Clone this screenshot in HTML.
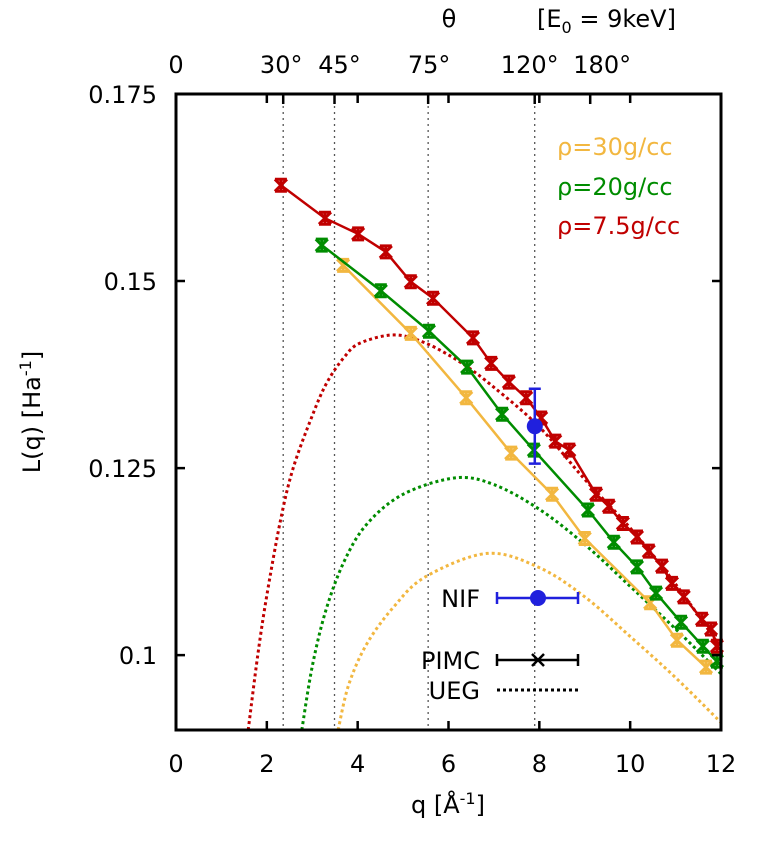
<!DOCTYPE html>
<html><head><meta charset="utf-8"><style>
body{margin:0;background:#fff;}
svg{display:block;font-family:"DejaVu Sans","Liberation Sans",sans-serif;}
</style></head><body>
<svg id="chart" width="773" height="861" viewBox="0 0 773 861"></svg>
<script>
const redQ=[2.31,3.28,4.01,4.62,5.17,5.66,6.54,6.94,7.33,7.71,8.04,8.35,8.66,9.25,9.53,9.84,10.15,10.41,10.70,10.92,11.18,11.58,11.78,11.91];
const redL=[0.1628,0.1584,0.1563,0.1539,0.1499,0.1477,0.1424,0.1390,0.1365,0.1344,0.1317,0.1286,0.1274,0.1215,0.1199,0.1176,0.1158,0.1139,0.1119,0.1096,0.1078,0.1048,0.1035,0.1012];
const greenQ=[3.21,4.51,5.57,6.41,7.18,7.88,9.07,9.64,10.15,10.57,11.12,11.60,11.91];
const greenL=[0.1548,0.1487,0.1433,0.1385,0.1322,0.1274,0.1194,0.1151,0.1118,0.1083,0.1044,0.1012,0.0992];
const yellowQ=[3.68,5.17,6.39,7.38,8.28,9.00,10.44,11.03,11.67];
const yellowL=[0.1521,0.1430,0.1344,0.1270,0.1215,0.1156,0.1070,0.1020,0.0984];
const uegRedQ=[1.59,1.8,2.0,2.3,2.58,3.0,3.32,3.7,4.05,4.8,5.5,6.3,7,8,9,10,11,12];
const uegRedL=[0.09,0.1,0.108,0.118,0.125,0.132,0.1364,0.1398,0.1417,0.1428,0.1417,0.139,0.1358,0.1305,0.1235,0.117,0.1095,0.101];
const uegGreenQ=[2.77,3.0,3.3,3.7,4.2,5,6.15,7,8,9,10,11,12];
const uegGreenL=[0.09,0.0985,0.106,0.1125,0.1175,0.1215,0.1237,0.1228,0.1195,0.1148,0.1092,0.1035,0.0975];
const uegYellowQ=[3.57,3.8,4.2,4.8,5.5,6.85,8,9,10,11,12];
const uegYellowL=[0.09,0.096,0.1015,0.1065,0.1105,0.1136,0.1117,0.1078,0.1025,0.097,0.091];
const nifQ=[7.9];const nifL=[0.1306];const nifErr=[0.005];
const xTicks=[0,2,4,6,8,10,12];
const yTicks=[0.1,0.125,0.15,0.175];
const yTickLabels=["0.1","0.125","0.15","0.175"];
const thetaLabels=["0","30°","45°","75°","120°","180°"];
const thetaDeg=[0,30,45,75,120,180];
const kIn=4.56;
const thetaLabelShift=[0,-2,5,1,-5,12];

const X0=176,X1=721,Y0=94,Y1=730,QMIN=0,QMAX=12,LMIN=0.09,LMAX=0.175;
const sx=q=>X0+(q-QMIN)/(QMAX-QMIN)*(X1-X0);
const sy=l=>Y1-(l-LMIN)/(LMAX-LMIN)*(Y1-Y0);
const svg=document.getElementById('chart');
const NS='http://www.w3.org/2000/svg';
function mk(tag,attrs,parent){const e=document.createElementNS(NS,tag);for(const k in attrs)e.setAttribute(k,attrs[k]);(parent||svg).appendChild(e);return e;}
function txt(x,y,s,attrs){const t=mk('text',Object.assign({x:x,y:y,'font-size':24,fill:'#000'},attrs||{}));t.textContent=s;return t;}

const clip=mk('clipPath',{id:'pc'});mk('rect',{x:X0,y:Y0,width:X1-X0,height:Y1-Y0},clip);
const thetaQ=thetaDeg.map(d=>2*kIn*Math.sin(d*Math.PI/360));
thetaQ.forEach((q,i)=>{if(i==0||i==5)return;
const l=mk('line',{x1:sx(q),x2:sx(q),y1:Y0,y2:Y1,stroke:'#555','stroke-width':1.3,'stroke-dasharray':'2,4'});

});
function smooth(pts){let d=`M${pts[0][0]},${pts[0][1]}`;
for(let i=0;i<pts.length-1;i++){const p0=pts[Math.max(i-1,0)],p1=pts[i],p2=pts[i+1],p3=pts[Math.min(i+2,pts.length-1)];
d+=`C${p1[0]+(p2[0]-p0[0])/6},${p1[1]+(p2[1]-p0[1])/6} ${p2[0]-(p3[0]-p1[0])/6},${p2[1]-(p3[1]-p1[1])/6} ${p2[0]},${p2[1]}`;}
return d;}
function curve(qs,ls,color,name){const g=mk('path',{d:smooth(qs.map((q,i)=>[sx(q),sy(ls[i])])),fill:'none',stroke:color,'stroke-width':3,'stroke-dasharray':'3,3','clip-path':'url(#pc)'});

}
curve(uegRedQ,uegRedL,'#c00000','ueg-curve-7.5');
curve(uegGreenQ,uegGreenL,'#008c00','ueg-curve-20');
curve(uegYellowQ,uegYellowL,'#f2b740','ueg-curve-30');
function marker(x,y,color,g){const s=6;
mk('path',{d:`M${x-s},${y-s}L${x+s},${y+s}M${x-s},${y+s}L${x+s},${y-s}M${x-s},${y-s}H${x+s}M${x-s},${y+s}H${x+s}M${x},${y-s}V${y+s}`,stroke:color,'stroke-width':3,fill:'none'},g);}
function series(qs,ls,color,name){const g=mk('g',{});


mk('polyline',{points:qs.map((q,i)=>sx(q)+','+sy(ls[i])).join(' '),fill:'none',stroke:color,'stroke-width':2.5},g);
qs.forEach((q,i)=>marker(sx(q),sy(ls[i]),color,g));}
series(yellowQ,yellowL,'#f2b740','pimc-series-30');
series(greenQ,greenL,'#008c00','pimc-series-20');
series(redQ,redL,'#c00000','pimc-series-7.5');
nifQ.forEach((q,i)=>{const g=mk('g',{});


const x=sx(q),a=sy(nifL[i]+nifErr[i]),b=sy(nifL[i]-nifErr[i]);
mk('path',{d:`M${x},${a}V${b}M${x-6},${a}H${x+6}M${x-6},${b}H${x+6}`,stroke:'#2020dd','stroke-width':2.5},g);
mk('circle',{cx:x,cy:sy(nifL[i]),r:8,fill:'#2020dd'},g);});
const fr=mk('rect',{x:X0,y:Y0,width:X1-X0,height:Y1-Y0,fill:'none',stroke:'#000','stroke-width':3});


xTicks.forEach(q=>{const x=sx(q);mk('path',{d:`M${x},${Y1}v-9M${x},${Y0}v9`,stroke:'#000','stroke-width':2.5});
const t=txt(x,772,String(q),{'text-anchor':'middle'});

});
yTicks.forEach((l,i)=>{const y=sy(l);mk('path',{d:`M${X0},${y}h9M${X1},${y}h-9`,stroke:'#000','stroke-width':2.5});
const t=txt(157,y+9,yTickLabels[i],{'text-anchor':'end'});

});
thetaQ.forEach((q,i)=>{const x=sx(q);if(i>0)mk('path',{d:`M${x},${Y0}v10`,stroke:'#000','stroke-width':2.5});
const t=txt(x+thetaLabelShift[i],73,thetaLabels[i],{'text-anchor':'middle'});

});
let t=txt(449,27,'θ',{'text-anchor':'middle'});


t=txt(537,27,'',{});t.innerHTML='[E<tspan font-size="16" dy="6">0</tspan><tspan dy="-6"> = 9keV]</tspan>';


t=txt(448,813,'',{'text-anchor':'middle'});t.innerHTML='q [Å<tspan font-size="16" dy="-9">-1</tspan><tspan dy="9">]</tspan>';


t=txt(0,0,'',{'text-anchor':'middle',transform:'translate(40,412) rotate(-90)'});t.innerHTML='L(q) [Ha<tspan font-size="16" dy="-9">-1</tspan><tspan dy="9">]</tspan>';


[['ρ=30g/cc','#f2b740',155,'legend-rho-30'],['ρ=20g/cc','#008c00',195,'legend-rho-20'],['ρ=7.5g/cc','#c00000',234,'legend-rho-7.5']].forEach(a=>{
const e=txt(557,a[2],a[0],{fill:a[1]});

});
let e=txt(480,607,'NIF',{'text-anchor':'end'});


mk('path',{d:'M497,598H578M497,592v12M578,592v12',stroke:'#2020dd','stroke-width':2.5});
mk('circle',{cx:538,cy:598,r:8,fill:'#2020dd'});
e=txt(480,669,'PIMC',{'text-anchor':'end'});


mk('path',{d:'M497,660H578M497,654v12M578,654v12M532,654l12,12M532,666l12,-12',stroke:'#000','stroke-width':2.5});
e=txt(480,699,'UEG',{'text-anchor':'end'});


mk('path',{d:'M497,690H578',stroke:'#000','stroke-width':3,'stroke-dasharray':'3,3'});
</script>
</body></html>
